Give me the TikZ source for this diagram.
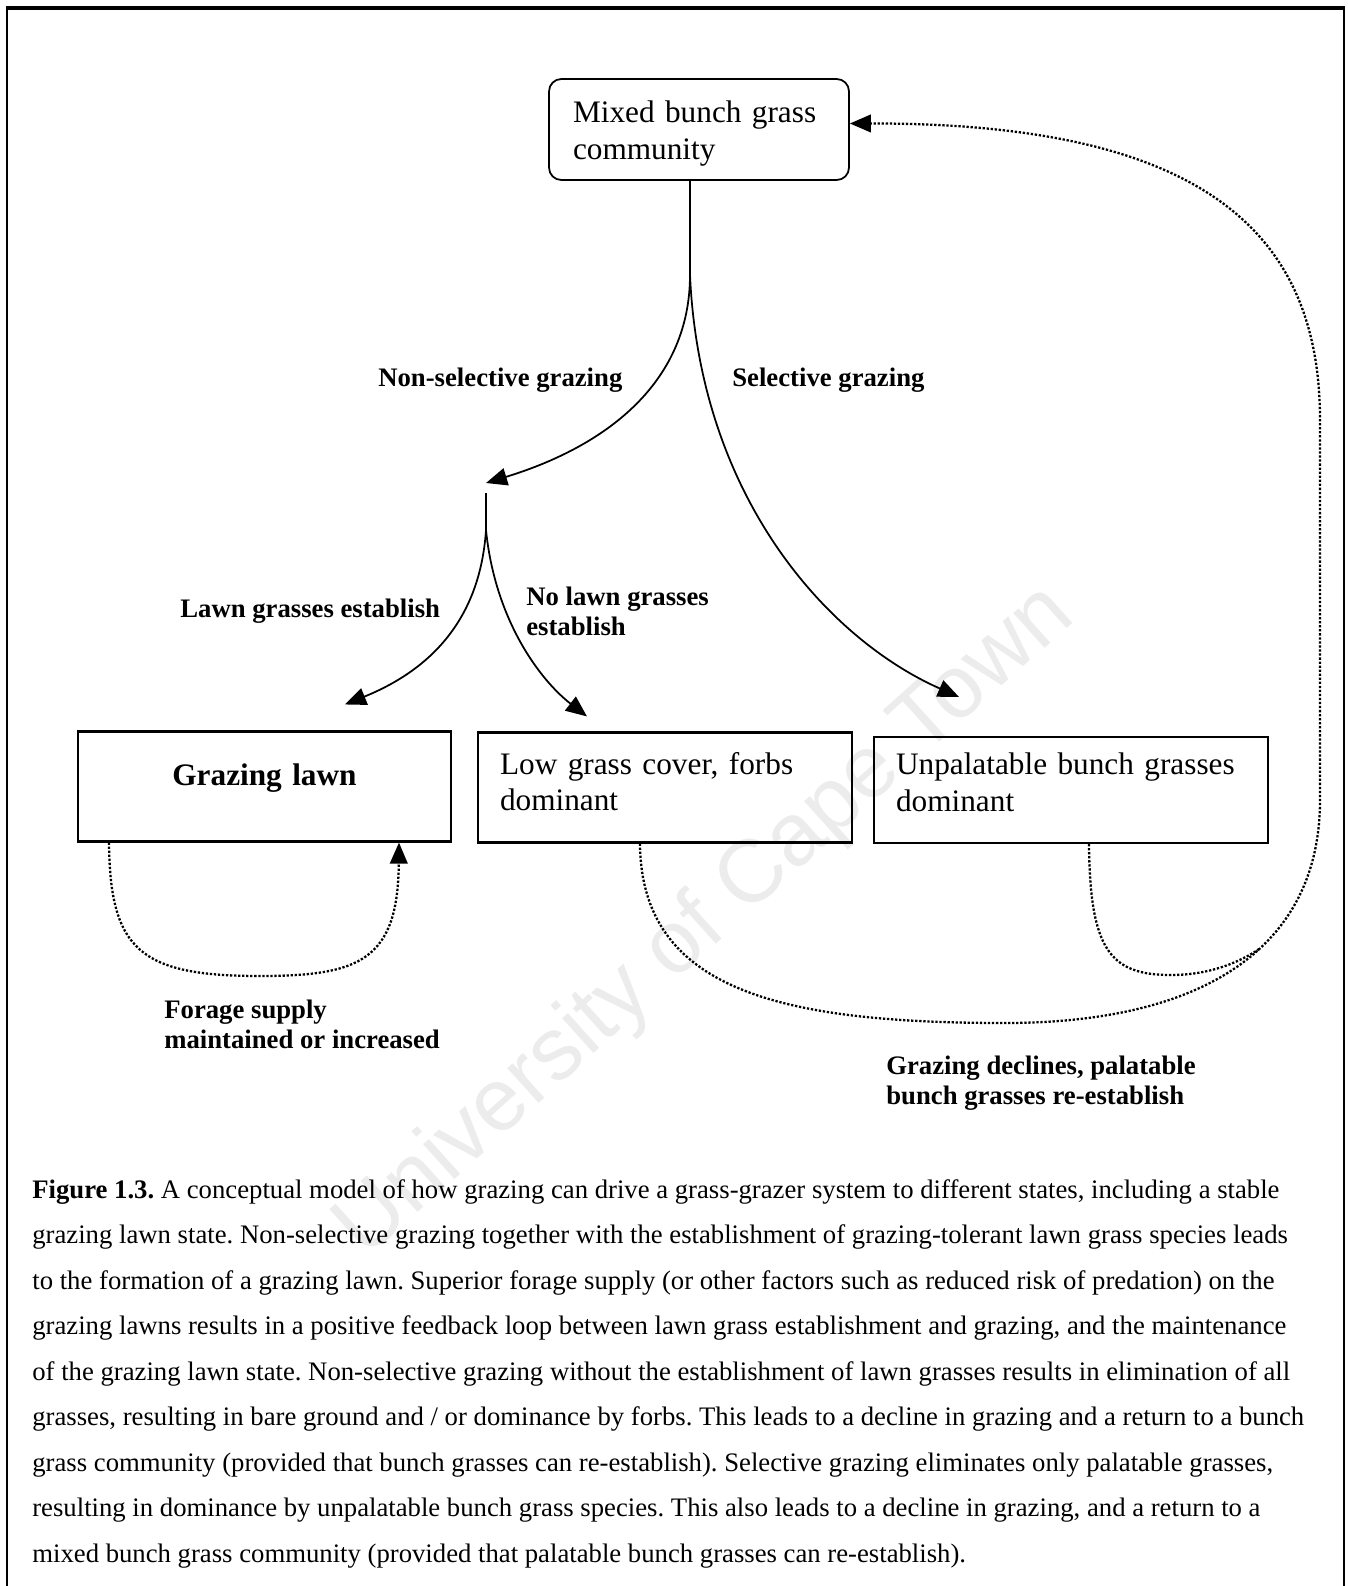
\documentclass[tikz,border=0pt]{standalone}
\usepackage{fontspec}
\setmainfont{Liberation Serif}
\newfontfamily\marksans{Liberation Sans}
\usetikzlibrary{arrows.meta,calc,positioning}
\frenchspacing

\begin{document}
\begin{tikzpicture}[x=0.02cm, y=-0.02cm]
    \tikzstyle{state} = [rectangle, draw, line width=1.2pt, minimum height=2.2cm, inner xsep=0.44cm, align=left, font=\fontsize{17.8}{21}\selectfont]
    \tikzstyle{topstate} = [state, rounded corners=7pt, line width=1pt, minimum height=2.02cm, inner xsep=0.48cm]
    \tikzstyle{note} = [inner sep=0pt, align=left, font=\fontsize{15.2}{17.2}\selectfont\bfseries]
    \tikzstyle{flow} = [line width=1pt, -{Triangle[length=12pt, width=10pt]}]
    \tikzstyle{feedback} = [line width=1.3pt, densely dotted]
    \tikzstyle{feedbackarrow} = [feedback, -{Triangle[length=12pt, width=10pt]}]

    \useasboundingbox (0,0) rectangle (1347,1586);

    % Watermark
    \node[rotate=42, text=gray!15, font=\marksans\fontsize{50.5}{60}\selectfont] (mark) at (706,922) {University of Cape Town};

    % Frame
    \draw[line width=1.3pt] (7,1586) -- (7,8);
    \draw[line width=1.3pt] (1344,8) -- (1344,1586);
    \draw[line width=2pt] (6,8) -- (1345,8);

    % States
    \node[topstate, text width=5.04cm, text height=16.5pt] (mixed) at (699,129.5) {Mixed bunch grass\\community};
    \node[state, text width=6.58cm, align=center, text height=3.2pt, font=\fontsize{17.8}{21}\selectfont\bfseries] (lawn) at (264.5,786.5) {Grazing lawn};
    \node[state, text width=6.6cm, text height=5.8pt] (lowgrass) at (665,787.5) {Low grass cover, forbs\\dominant};
    \node[state, text width=7.0cm, minimum height=2.12cm, text height=3.4pt] (unpal) at (1071,790) {Unpalatable bunch grasses\\dominant};

    % Branch points
    \coordinate (split) at (690,275);
    \coordinate (fork) at (486,483);
    \coordinate (fork2) at (486,530);

    % Grazing paths
    \draw[flow] (mixed.south -| split) -- (split) .. controls (690,380) and (610,445) .. (fork);
    \draw[flow] (mixed.south -| split) -- (split) .. controls (700,500) and (830,640) .. ($(unpal.north)+(-112,-39)$);
    \draw[flow] ($(fork)+(0,10)$) -- (fork2) .. controls (480,620) and (430,670) .. ($(lawn.north)+(80.5,-26)$);
    \draw[flow] ($(fork)+(0,10)$) -- (fork2) .. controls (495,620) and (540,680) .. ($(lowgrass.north)+(-78,-15)$);

    % Feedback loops
    \draw[feedbackarrow] ($(lawn.south west)+(32,0)$) .. controls (110,950) and (140,976) .. (260,976)
        .. controls (360,976) and (398,960) .. ($(lawn.south west)+(322,0)$);
    \draw[feedbackarrow] ($(lowgrass.south west)+(163,0)$) .. controls (641,990) and (780,1023) .. (1005,1023)
        .. controls (1200,1023) and (1320,950) .. coordinate[pos=0.58] (merge) (1320,800)
        -- (1320,420) .. controls (1320,230) and (1200,123) .. ($(mixed.east)+(0,-6)$);
    \draw[feedback] ($(unpal.south west)+(216,0)$) .. controls (1090,950) and (1110,975) .. (1171,975)
        .. controls (1210,975) and (1240,962) .. (merge);

    % Conditions
    \node[note, anchor=base west] (nonsel) at (378,386) {Non-selective grazing};
    \node[note, anchor=base west] (sel) at (732,386) {Selective grazing};
    \node[note, anchor=base west] (lawnest) at (180,617) {Lawn grasses establish};
    \node[note, anchor=west] (nolawn) at (526,611) {No lawn grasses\\establish};
    \node[note, anchor=west] (forage) at (164,1024) {Forage supply\\maintained or increased};
    \node[note, anchor=west] (decline) at (886,1083) {Grazing declines, palatable\\bunch grasses re-establish};

    % Caption
    \node[anchor=north west, inner sep=0pt, align=left, font=\fontsize{15.2}{25.9}\selectfont] (caption) at (32,1179) {%
        \textbf{Figure 1.3.} A conceptual model of how grazing can drive a grass-grazer system to different states, including a stable\\
        grazing lawn state. Non-selective grazing together with the establishment of grazing-tolerant lawn grass species leads\\
        to the formation of a grazing lawn. Superior forage supply (or other factors such as reduced risk of predation) on the\\
        grazing lawns results in a positive feedback loop between lawn grass establishment and grazing, and the maintenance\\
        of the grazing lawn state. Non-selective grazing without the establishment of lawn grasses results in elimination of all\\
        grasses, resulting in bare ground and / or dominance by forbs. This leads to a decline in grazing and a return to a bunch\\
        grass community (provided that bunch grasses can re-establish). Selective grazing eliminates only palatable grasses,\\
        resulting in dominance by unpalatable bunch grass species. This also leads to a decline in grazing, and a return to a\\
        mixed bunch grass community (provided that palatable bunch grasses can re-establish).};
\end{tikzpicture}
\end{document}
